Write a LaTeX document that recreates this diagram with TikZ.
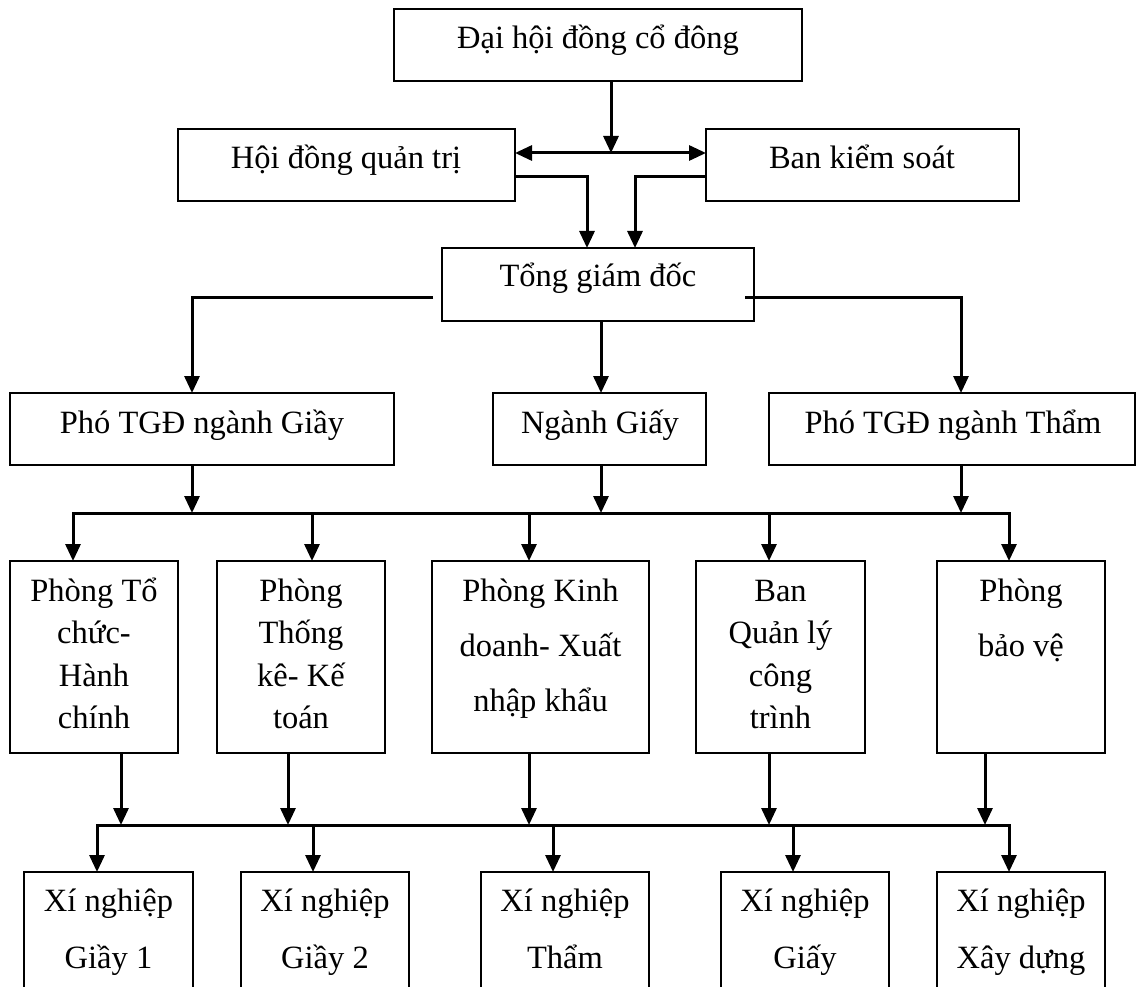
\documentclass[tikz,border=0pt]{standalone}
\usepackage{fontspec}
\setmainfont{Liberation Serif}
\usetikzlibrary{arrows.meta}
\begin{document}
\begin{tikzpicture}[x=1pt,y=-1pt,
  box/.style={draw, line width=2.3pt, inner sep=0pt, outer sep=0pt, anchor=north west},
  lbl/.style={anchor=base, inner sep=0pt, font=\fontsize{32.5}{38}\selectfont},
  conn/.style={line width=3pt},
  arr/.style={conn, -{Triangle[length=17pt,width=15pt]}},
  darr/.style={conn, {Triangle[length=17pt,width=15pt]}-{Triangle[length=17pt,width=15pt]}}]
\clip (0,0) rectangle (1138,987);
% boxes
\node[box, minimum width=408pt, minimum height=72pt] (dhd) at (394,9) {};
\node[box, minimum width=337pt, minimum height=72pt] (hdqt) at (178,129) {};
\node[box, minimum width=313pt, minimum height=72pt] (bks) at (706,129) {};
\node[box, minimum width=312pt, minimum height=73pt] (tgd) at (442,248) {};
\node[box, minimum width=384pt, minimum height=72pt] (pg) at (10,393) {};
\node[box, minimum width=213pt, minimum height=72pt] (ng) at (493,393) {};
\node[box, minimum width=366pt, minimum height=72pt] (pt) at (769,393) {};
\node[box, minimum width=168pt, minimum height=192pt] (r5a) at (10,561) {};
\node[box, minimum width=168pt, minimum height=192pt] (r5b) at (217,561) {};
\node[box, minimum width=217pt, minimum height=192pt] (r5c) at (432,561) {};
\node[box, minimum width=169pt, minimum height=192pt] (r5d) at (696,561) {};
\node[box, minimum width=168pt, minimum height=192pt] (r5e) at (937,561) {};
\node[box, minimum width=169pt, minimum height=160pt] (r6a) at (24,872) {};
\node[box, minimum width=168pt, minimum height=160pt] (r6b) at (241,872) {};
\node[box, minimum width=168pt, minimum height=160pt] (r6c) at (481,872) {};
\node[box, minimum width=168pt, minimum height=160pt] (r6d) at (721,872) {};
\node[box, minimum width=168pt, minimum height=160pt] (r6e) at (937,872) {};
% labels
\node[lbl] (tdhd) at (598,49) {Đại hội đồng cổ đông};
\node[lbl] (thdqt) at (346,169) {Hội đồng quản trị};
\node[lbl] (tbks) at (862,169) {Ban kiểm soát};
\node[lbl] (ttgd) at (598,287) {Tổng giám đốc};
\node[lbl] (tpg) at (202,433) {Phó TGĐ ngành Giầy};
\node[lbl] (tng) at (600,433) {Ngành Giấy};
\node[lbl] (tpt) at (953,433) {Phó TGĐ ngành Thẩm};
\node[lbl] (ta1) at (94,601) {Phòng Tổ};
\node[lbl] (ta2) at (94,643.5) {chức-};
\node[lbl] (ta3) at (94,686) {Hành};
\node[lbl] (ta4) at (94,728.5) {chính};
\node[lbl] (tb1) at (301,601) {Phòng};
\node[lbl] (tb2) at (301,643.5) {Thống};
\node[lbl] (tb3) at (301,686) {kê- Kế};
\node[lbl] (tb4) at (301,728.5) {toán};
\node[lbl] (tc1) at (540.5,601) {Phòng Kinh};
\node[lbl] (tc2) at (540.5,656) {doanh- Xuất};
\node[lbl] (tc3) at (540.5,711) {nhập khẩu};
\node[lbl] (td1) at (780.5,601) {Ban};
\node[lbl] (td2) at (780.5,643.5) {Quản lý};
\node[lbl] (td3) at (780.5,686) {công};
\node[lbl] (td4) at (780.5,728.5) {trình};
\node[lbl] (te1) at (1021,601) {Phòng};
\node[lbl] (te2) at (1021,656) {bảo vệ};
\node[lbl] (ua1) at (108.5,911) {Xí nghiệp};
\node[lbl] (ua2) at (108.5,968) {Giầy 1};
\node[lbl] (ub1) at (325,911) {Xí nghiệp};
\node[lbl] (ub2) at (325,968) {Giầy 2};
\node[lbl] (uc1) at (565,911) {Xí nghiệp};
\node[lbl] (uc2) at (565,968) {Thẩm};
\node[lbl] (ud1) at (805,911) {Xí nghiệp};
\node[lbl] (ud2) at (805,968) {Giấy};
\node[lbl] (ue1) at (1021,911) {Xí nghiệp};
\node[lbl] (ue2) at (1021,968) {Xây dựng};
% coordinates
\coordinate (j0) at (611,153);
\coordinate (c1) at (587,177);
\coordinate (c2) at (635,177);
\coordinate (l0) at (433,297);
\coordinate (l1) at (192,297);
\coordinate (r0) at (745,297);
\coordinate (r1) at (961,297);
\coordinate (m0) at (601,297);
\coordinate (b1) at (0,513);
\coordinate (d1a) at (73,513);
\coordinate (d1b) at (312,513);
\coordinate (d1c) at (529,513);
\coordinate (d1d) at (769,513);
\coordinate (d1e) at (1009,513);
\coordinate (u1) at (121,825);
\coordinate (u2) at (288,825);
\coordinate (u3) at (529,825);
\coordinate (u4) at (769,825);
\coordinate (u5) at (985,825);
\coordinate (d2a) at (97,825);
\coordinate (d2b) at (313,825);
\coordinate (d2c) at (553,825);
\coordinate (d2d) at (793,825);
\coordinate (d2e) at (1009,825);
% connectors
\draw[arr] (dhd.south -| j0) -- (j0);
\draw[darr] (hdqt.east |- j0) -- (bks.west |- j0);
\draw[arr] (hdqt.east |- c1) -- (c1) -- (c1 |- tgd.north);
\draw[arr] (bks.west |- c2) -- (c2) -- (c2 |- tgd.north);
\draw[arr] (l0) -- (l1) -- (l1 |- pg.north);
\draw[arr] (r0) -- (r1) -- (r1 |- pt.north);
\draw[arr] (tgd.south -| m0) -- (ng.north -| m0);
\draw[arr] (pg.south -| l1) -- (b1 -| l1);
\draw[arr] (ng.south -| m0) -- (b1 -| m0);
\draw[arr] (pt.south -| r1) -- (b1 -| r1);
\draw[darr] (r5a.north -| d1a) -- (d1a) -- (d1e) -- (r5e.north -| d1e);
\draw[arr] (d1b) -- (r5b.north -| d1b);
\draw[arr] (d1c) -- (r5c.north -| d1c);
\draw[arr] (d1d) -- (r5d.north -| d1d);
\draw[arr] (r5a.south -| u1) -- (u1);
\draw[arr] (r5b.south -| u2) -- (u2);
\draw[arr] (r5c.south -| u3) -- (u3);
\draw[arr] (r5d.south -| u4) -- (u4);
\draw[arr] (r5e.south -| u5) -- (u5);
\draw[darr] (r6a.north -| d2a) -- (d2a) -- (d2e) -- (r6e.north -| d2e);
\draw[arr] (d2b) -- (r6b.north -| d2b);
\draw[arr] (d2c) -- (r6c.north -| d2c);
\draw[arr] (d2d) -- (r6d.north -| d2d);
\end{tikzpicture}
\end{document}
